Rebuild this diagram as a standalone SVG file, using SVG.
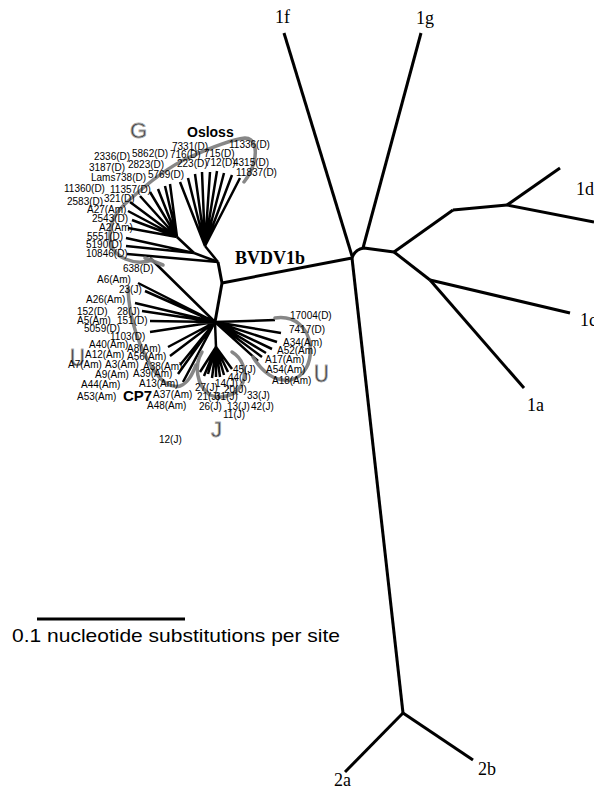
<svg xmlns="http://www.w3.org/2000/svg" width="594" height="788" viewBox="0 0 594 788">
<style>
.br{stroke:#000;stroke-width:3;fill:none;stroke-linecap:butt;stroke-linejoin:round}
.tw{stroke:#000;stroke-width:2.5;fill:none;stroke-linecap:butt}
.arc{stroke:#7a7a7a;stroke-width:3.5;fill:none;stroke-linecap:round;opacity:0.9}
.lb{font-family:"Liberation Sans",Arial,sans-serif;font-size:10px;fill:#000}
.gl{font-family:"Liberation Serif","Times New Roman",serif;font-size:18px;fill:#000}
.big{font-family:"Liberation Sans",Arial,sans-serif;font-weight:bold;fill:#000}
.grp{font-family:"Liberation Sans",Arial,sans-serif;fill:#3a3a3a;stroke:#aaa;stroke-width:0.8}
</style>
<rect width="594" height="788" fill="#fff"/>
<g id="connectors">
  <!-- main tree -->
  <path class="br" d="M284,33 L352,256"/>
  <path class="br" d="M421,33 L363,248"/>
  <path class="br" d="M222,283 L352,258"/>
  <path class="br" d="M352,258 Q355,249 364,248 L394,252"/>
  <path class="br" d="M352,258 L403,713"/>
  <path class="br" d="M403,713 L345,772"/>
  <path class="br" d="M403,713 L473,760"/>
  <path class="br" d="M394,252 L453,210"/>
  <path class="br" d="M453,210 L507,205"/>
  <path class="br" d="M507,205 L560,168"/>
  <path class="br" d="M507,205 L594,222"/>
  <path class="br" d="M394,252 L430,280"/>
  <path class="br" d="M430,280 L570,313"/>
  <path class="br" d="M430,280 L524,388"/>
  <!-- BVDV1b internal -->
  <path class="br" d="M222,283 L218,262"/>
  <path class="br" d="M222,283 L215,322"/>
  <!-- G cluster -->
  <path class="tw" d="M218,262 L127,254"/>
  <path class="tw" d="M218,262 L194,253"/>
  <path class="tw" d="M194,253 L126,238 M194,253 L126,246"/>
  <path class="tw" d="M194,253 L177,237"/>
  <path class="tw" d="M177,237 L128,228 M177,237 L132,220 M177,237 L128,211 M177,237 L130,202 M177,237 L140,196 M177,237 L150,192 M177,237 L158,189 M177,237 L165,186 M177,237 L170,184"/>
  <path class="tw" d="M218,262 L205,246"/>
  <path class="tw" d="M205,246 L180,182 M205,246 L188,178 M205,246 L195,174 M205,246 L202,172 M205,246 L210,172 M205,246 L217,171 M205,246 L224,173 M205,246 L232,175 M205,246 L240,178"/>
  <!-- star cluster -->
  <path class="tw" d="M215,322 L150,258 M215,322 L138,283 M215,322 L145,291 M215,322 L135,303 M215,322 L142,311 M215,322 L150,321 M215,322 L150,332 M215,322 L168,347 M215,322 L170,356 M215,322 L180,365 M215,322 L178,374 M215,322 L183,382"/>
  <path class="tw" d="M215,322 L275,320 M215,322 L281,333 M215,322 L277,342 M215,322 L272,349 M215,322 L266,353 M215,322 L262,357 M215,322 L258,361"/>
  <path class="tw" d="M215,322 L216,347"/>
  <path class="tw" d="M216,347 L200,372 M216,347 L204,376 M216,347 L208,374 M216,347 L212,378 M216,347 L216,377 M216,347 L220,377 M216,347 L224,375 M216,347 L228,372 M216,347 L232,369"/>
  <!-- scale bar -->
  <path class="br" d="M37,619 L185,619"/>
</g>
<g id="highlights">
  <path class="arc" d="M152,260 C135,266 112,258 110,240 C109,225 115,213 125,204 C140,190 165,168 190,157 C210,148 230,140 245,138 C255,138 257,150 254,162 C252,170 248,177 244,182"/>
  <path class="arc" d="M145,258 L163,265"/>
  <path class="arc" d="M128,288 C129,320 140,350 155,372 C163,383 172,388 180,386 C188,383 192,375 196,365"/>
  <path class="arc" d="M202,352 C194,365 196,385 210,395 C222,400 238,395 243,382 C247,370 242,358 232,352"/>
  <path class="arc" d="M275,318 C295,315 308,328 310,345 C312,362 305,377 290,380 C275,382 262,372 253,357"/>
</g>
<g id="group-labels">
  <text class="grp" x="130" y="138" font-size="22">G</text>
  <text class="grp" x="70" y="366" font-size="24" transform="translate(70,366) scale(0.85,1) translate(-70,-366)">U</text>
  <text class="grp" x="314" y="382" font-size="24" transform="translate(314,382) scale(0.85,1) translate(-314,-382)">U</text>
  <text class="grp" x="211" y="437" font-size="22">J</text>
</g>
<g id="n-1f"><text class="gl" x="275" y="23">1f</text></g>
<g id="n-1g"><text class="gl" x="416" y="24">1g</text></g>
<g id="n-1d"><text class="gl" x="576" y="195">1d</text></g>
<g id="n-1c"><text class="gl" x="580" y="326">1c</text></g>
<g id="n-1a"><text class="gl" x="527" y="411">1a</text></g>
<g id="n-2a"><text class="gl" x="334" y="786">2a</text></g>
<g id="n-2b"><text class="gl" x="478" y="775">2b</text></g>
<g id="n-bvdv1b"><text class="gl" x="235" y="264" font-weight="bold" font-size="25">BVDV1b</text></g>
<g id="n-osloss"><text class="big" x="187" y="137" font-size="14">Osloss</text></g>
<g id="n-cp7"><text class="big" x="123" y="401" font-size="15">CP7</text></g>
<g id="taxa">
  <text class="lb" x="172" y="150">7331(D)</text>
  <text class="lb" x="229" y="148">11336(D)</text>
  <text class="lb" x="132" y="157">5862(D)</text>
  <text class="lb" x="170" y="158">716(D)</text>
  <text class="lb" x="204" y="157">715(D)</text>
  <text class="lb" x="94" y="160">2336(D)</text>
  <text class="lb" x="128" y="168">2823(D)</text>
  <text class="lb" x="177" y="167">223(D)</text>
  <text class="lb" x="205" y="166">712(D)</text>
  <text class="lb" x="233" y="166">4315(D)</text>
  <text class="lb" x="89" y="171">3187(D)</text>
  <text class="lb" x="148" y="178">5769(D)</text>
  <text class="lb" x="91" y="181">Lams738(D)</text>
  <text class="lb" x="236" y="176">11837(D)</text>
  <text class="lb" x="64" y="192">11360(D)</text>
  <text class="lb" x="110" y="193">11357(D)</text>
  <text class="lb" x="104" y="202">321(D)</text>
  <text class="lb" x="67" y="205">2583(D)</text>
  <text class="lb" x="87" y="213">A27(Am)</text>
  <text class="lb" x="92" y="222">2543(D)</text>
  <text class="lb" x="99" y="231">A2(Am)</text>
  <text class="lb" x="87" y="240">5551(D)</text>
  <text class="lb" x="86" y="248">5190(D)</text>
  <text class="lb" x="86" y="257">10846(D)</text>
  <text class="lb" x="123" y="272">638(D)</text>
  <text class="lb" x="97" y="283">A6(Am)</text>
  <text class="lb" x="119" y="293">23(J)</text>
  <text class="lb" x="86" y="303">A26(Am)</text>
  <text class="lb" x="77" y="315">152(D)</text>
  <text class="lb" x="117" y="315">28(J)</text>
  <text class="lb" x="77" y="324">A5(Am)</text>
  <text class="lb" x="117" y="324">151(D)</text>
  <text class="lb" x="84" y="332">5059(D)</text>
  <text class="lb" x="110" y="340">1103(D)</text>
  <text class="lb" x="89" y="348">A40(Am)</text>
  <text class="lb" x="127" y="352">A8(Am)</text>
  <text class="lb" x="85" y="358">A12(Am)</text>
  <text class="lb" x="127" y="360">A56(Am)</text>
  <text class="lb" x="68" y="368">A7(Am)</text>
  <text class="lb" x="105" y="368">A3(Am)</text>
  <text class="lb" x="143" y="370">A38(Am)</text>
  <text class="lb" x="95" y="378">A9(Am)</text>
  <text class="lb" x="133" y="377">A39(Am)</text>
  <text class="lb" x="81" y="388">A44(Am)</text>
  <text class="lb" x="139" y="387">A13(Am)</text>
  <text class="lb" x="77" y="400">A53(Am)</text>
  <text class="lb" x="153" y="398">A37(Am)</text>
  <text class="lb" x="147" y="409">A48(Am)</text>
  <text class="lb" x="159" y="443">12(J)</text>
  <text class="lb" x="195" y="391">27(J)</text>
  <text class="lb" x="215" y="387">14(J)</text>
  <text class="lb" x="224" y="393">20(J)</text>
  <text class="lb" x="233" y="373">45(J)</text>
  <text class="lb" x="228" y="381">44(J)</text>
  <text class="lb" x="197" y="400">21(J)</text>
  <text class="lb" x="215" y="400">31(J)</text>
  <text class="lb" x="247" y="399">33(J)</text>
  <text class="lb" x="199" y="410">26(J)</text>
  <text class="lb" x="227" y="410">13(J)</text>
  <text class="lb" x="251" y="410">42(J)</text>
  <text class="lb" x="223" y="418">11(J)</text>
  <text class="lb" x="290" y="319">17004(D)</text>
  <text class="lb" x="289" y="333">7417(D)</text>
  <text class="lb" x="283" y="346">A34(Am)</text>
  <text class="lb" x="277" y="354">A52(Am)</text>
  <text class="lb" x="265" y="363">A17(Am)</text>
  <text class="lb" x="266" y="373">A54(Am)</text>
  <text class="lb" x="272" y="384">A18(Am)</text>
</g>
<g id="scale-label"><text x="12" y="642" font-family="'Liberation Sans',Arial,sans-serif" font-size="19" textLength="328" lengthAdjust="spacingAndGlyphs">0.1 nucleotide substitutions per site</text></g>
</svg>
